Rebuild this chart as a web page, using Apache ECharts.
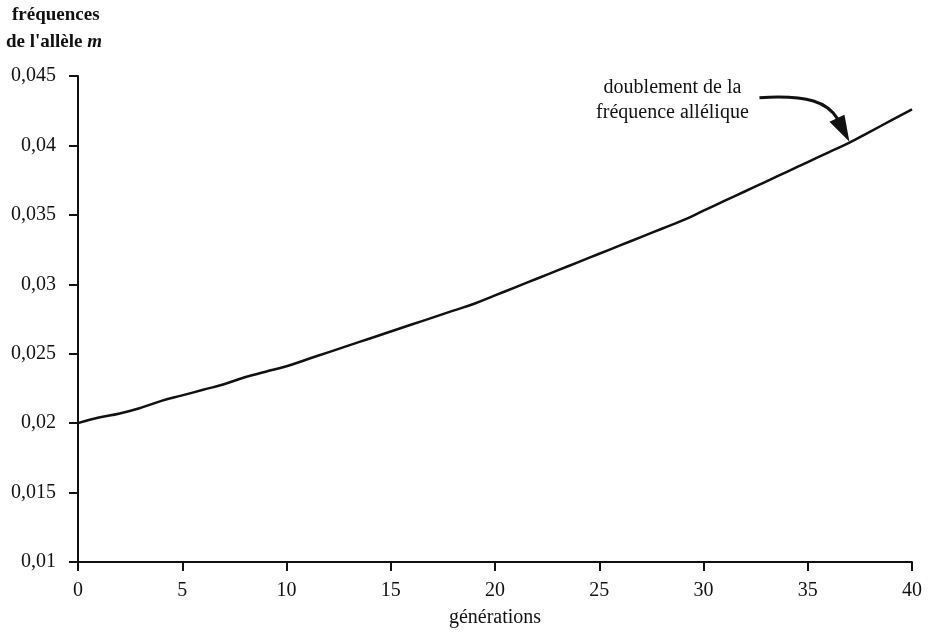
<!DOCTYPE html>
<html><head><meta charset="utf-8">
<script src="https://cdn.jsdelivr.net/npm/echarts@6/dist/echarts.min.js"></script>
<style>html,body{margin:0;padding:0;background:#fff}#c{width:928px;height:635px}</style>
</head><body><div id="c"></div>
<script>
const generations = [0,1,2,3,4,5,6,7,8,9,10,11,12,13,14,15,16,17,18,19,20,21,22,23,24,25,26,27,28,29,30,31,32,33,34,35,36,37,38,39,40];
const frequencies = [0.0200,0.0204,0.0207,0.0211,0.0216,0.0220,0.0224,0.0228,0.0233,0.0237,0.0241,0.0246,0.0251,0.0256,0.0261,0.0266,0.0271,0.0276,0.0281,0.0286,0.0292,0.0298,0.0304,0.0310,0.0316,0.0322,0.0328,0.0334,0.0340,0.0346,0.0353,0.0360,0.0367,0.0374,0.0381,0.0388,0.0395,0.0402,0.0410,0.0418,0.0426];
const xTicks = [0,5,10,15,20,25,30,35,40];
const yTicks = [0.01,0.015,0.02,0.025,0.03,0.035,0.04,0.045];
const annotationText = ['doublement de la','fréquence allélique'];
const annotationGen = 37;

const font = '"Liberation Serif","DejaVu Serif",serif';
const chart = echarts.init(document.getElementById('c'));
const fmtY = v => parseFloat(v.toFixed(3)).toString().replace('.', ',');
chart.setOption({
  backgroundColor:'#fff',
  animation:false,
  grid:{left:78,right:16,top:76,bottom:73},
  xAxis:{type:'value',min:0,max:40,interval:5,
    name:'générations',nameLocation:'middle',nameGap:46,
    nameTextStyle:{fontFamily:font,fontSize:20,color:'#111'},
    axisLine:{lineStyle:{color:'#111',width:2}},
    axisTick:{show:true,length:9,lineStyle:{color:'#111',width:2}},
    axisLabel:{margin:19,fontFamily:font,fontSize:20,color:'#111',formatter:v=>String(v)},
    splitLine:{show:false}},
  yAxis:{type:'value',min:0.01,max:0.045,interval:0.005,
    name:'{a1|fréquences}\n{a|de l\'allèle }{b|m}',nameLocation:'end',nameGap:0,
    nameTextStyle:{align:'left',padding:[0,0,20,-72],rich:{
      a1:{fontFamily:font,fontSize:19,fontWeight:'bold',color:'#111',lineHeight:27,padding:[0,0,0,6]},
      a:{fontFamily:font,fontSize:19,fontWeight:'bold',color:'#111',lineHeight:27},
      b:{fontFamily:font,fontSize:19,fontStyle:'italic',fontWeight:'bold',color:'#111',lineHeight:27}}},
    axisLine:{show:true,lineStyle:{color:'#111',width:2}},
    axisTick:{show:true,length:9,lineStyle:{color:'#111',width:2}},
    axisLabel:{margin:22,fontFamily:font,fontSize:20,color:'#111',formatter:fmtY},
    splitLine:{show:false}},
  series:[{type:'line',data:generations.map((g,i)=>[g,frequencies[i]]),
    showSymbol:false,smooth:true,lineStyle:{color:'#111',width:2.5}}]
});

const tip = chart.convertToPixel({gridIndex:0},[annotationGen,frequencies[generations.indexOf(annotationGen)]]);
const tx = tip[0], ty = tip[1]-1;
const sx = tx-90, sy = ty-44;
const hx = tx-12, hy = ty-23;
chart.setOption({graphic:[
  {type:'bezierCurve',shape:{x1:sx,y1:sy,cpx1:sx+50,cpy1:sy-3,cpx2:hx-10,cpy2:hy-16,x2:hx,y2:hy},
    style:{stroke:'#111',lineWidth:3,fill:null}},
  {type:'polygon',shape:{points:[[tx,ty],[tx-20,ty-20],[tx-5,ty-27]]},style:{fill:'#111'}},
  {type:'text',x:tx-177,y:ty-41,style:{text:annotationText.join('\n'),font:'20px '+font,fill:'#111',
    align:'center',verticalAlign:'middle',lineHeight:25}}
]});
</script></body></html>
